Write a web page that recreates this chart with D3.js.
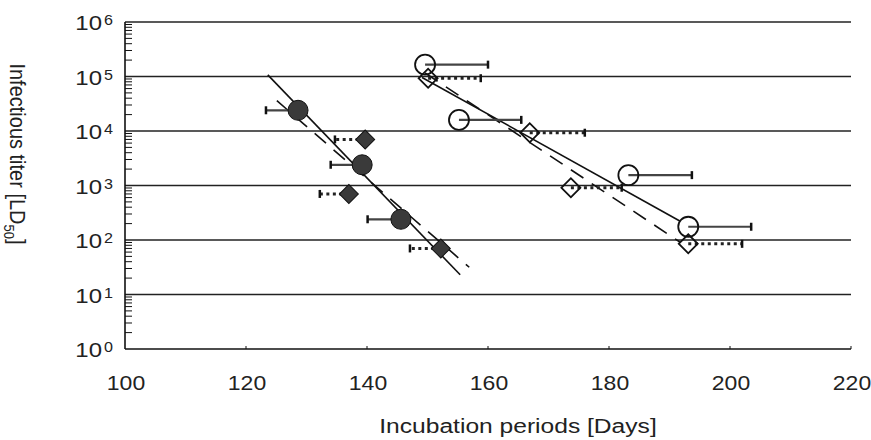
<!DOCTYPE html>
<html><head><meta charset="utf-8">
<script src="https://cdn.jsdelivr.net/npm/d3@7/dist/d3.min.js"></script>
<style>
html,body{margin:0;padding:0;background:#fff;}
svg{display:block;}
text{font-family:"Liberation Sans",Arial,"DejaVu Sans",sans-serif;fill:#222;}
</style></head>
<body>
<svg id="chart" width="871" height="440"></svg>
<script>
// ---- data ----
const xTicks = [100, 120, 140, 160, 180, 200, 220];
const yExponents = [0, 1, 2, 3, 4, 5, 6];

// filled circles (error bar to the left, solid)
const fcDays = [128.6, 139.2, 145.6];
const fcTiter = [24000, 2400, 240];
const fcErrDays = [123.3, 134.0, 140.1];
// filled diamonds (error bar to the left, dotted)
const fdDays = [139.7, 137.0, 152.2];
const fdTiter = [7000, 700, 70];
const fdErrDays = [134.7, 132.2, 147.1];
// open circles (error bar to the right, solid)
const ocDays = [149.6, 155.2, 183.2, 193.1];
const ocTiter = [165000, 16000, 1550, 175];
const ocErrDays = [160.0, 165.5, 193.7, 203.5];
// open diamonds (error bar to the right, dotted)
const odDays = [150.1, 166.9, 173.7, 193.1];
const odTiter = [93000, 9300, 910, 85];
const odErrDays = [158.8, 176.0, 182.1, 202.0];

// regression lines (end points)
const fitFilledSolidDays = [123.6, 155.4];
const fitFilledSolidTiter = [107000, 23];
const fitFilledDashDays = [125.1, 156.9];
const fitFilledDashTiter = [36000, 31.6];
const fitOpenSolidDays = [149.1, 191.7];
const fitOpenSolidTiter = [96000, 223];
const fitOpenDashDays = [149.6, 191.7];
const fitOpenDashTiter = [116000, 92];

// ---- layout ----
const svg = d3.select("#chart");
const x = d3.scaleLinear().domain([100, 220]).range([125, 851]);
const y = d3.scaleLog().domain([1, 1e6]).range([349, 22]);

function sText(parent, px, py, txt, size, anchor, sx) {
  return parent.append("text")
    .attr("transform", `translate(${px},${py}) scale(${sx},1)`)
    .attr("text-anchor", anchor).attr("font-size", size).text(txt);
}

// gridlines at decades
svg.append("g").selectAll("line").data(yExponents.slice(1)).join("line")
  .attr("x1", x(100)).attr("x2", x(220))
  .attr("y1", d => y(Math.pow(10, d))).attr("y2", d => y(Math.pow(10, d)))
  .attr("stroke", "#222").attr("stroke-width", 1.4);

// axes lines
svg.append("line").attr("x1", x(100)).attr("x2", x(100)).attr("y1", y(1e6)).attr("y2", y(1))
  .attr("stroke", "#111").attr("stroke-width", 1.6);
svg.append("line").attr("x1", x(100)).attr("x2", x(220)).attr("y1", y(1)).attr("y2", y(1))
  .attr("stroke", "#111").attr("stroke-width", 1.4);

// minor y ticks
const minor = [];
yExponents.slice(0, -1).forEach(e => { for (let k = 2; k <= 9; k++) minor.push(k * Math.pow(10, e)); });
svg.append("g").selectAll("line").data(minor).join("line")
  .attr("x1", x(100)).attr("x2", x(100) + 7)
  .attr("y1", d => y(d)).attr("y2", d => y(d))
  .attr("stroke", "#111").attr("stroke-width", 1);

// x ticks
svg.append("g").selectAll("line").data(xTicks.slice(1)).join("line")
  .attr("x1", d => x(d)).attr("x2", d => x(d))
  .attr("y1", y(1)).attr("y2", y(1) - 3)
  .attr("stroke", "#111").attr("stroke-width", 1);

// x tick labels
const xl = svg.append("g");
xTicks.forEach(t => sText(xl, x(t) + 1, 390, t, 20, "middle", 1.15));

// y tick labels
const yg = svg.append("g");
yExponents.forEach(e => {
  const yy = y(Math.pow(10, e));
  sText(yg, 102, yy + 8, "10", 20, "end", 1.2);
  sText(yg, 104, yy + 3, e, 14, "start", 1.15);
});

// axis titles
sText(svg, 518, 433, "Incubation periods [Days]", 20, "middle", 1.23);
const yt = svg.append("text").attr("transform", "translate(10,154) scale(1.1,1) rotate(90)")
  .attr("text-anchor", "middle").attr("font-size", 20);
yt.append("tspan").text("Infectious titer [LD");
yt.append("tspan").attr("font-size", 13).attr("dy", 5).text("50");
yt.append("tspan").attr("dy", -5).text("]");

// regression lines
function fitLine(days, titer, dash) {
  svg.append("line")
    .attr("x1", x(days[0])).attr("y1", y(titer[0]))
    .attr("x2", x(days[1])).attr("y2", y(titer[1]))
    .attr("stroke", "#111").attr("stroke-width", 1.6)
    .attr("stroke-dasharray", dash ? "15,10" : null);
}
fitLine(fitFilledSolidDays, fitFilledSolidTiter, false);
fitLine(fitFilledDashDays, fitFilledDashTiter, true);
fitLine(fitOpenSolidDays, fitOpenSolidTiter, false);
fitLine(fitOpenDashDays, fitOpenDashTiter, true);

// error bars
function errBars(days, titer, errDays, dotted) {
  const g = svg.append("g");
  days.forEach((d, i) => {
    const yy = y(titer[i]);
    g.append("line").attr("x1", x(d)).attr("x2", x(errDays[i]))
      .attr("y1", yy).attr("y2", yy)
      .attr("stroke", dotted ? "#222" : "#444")
      .attr("stroke-width", dotted ? 3 : 2.2)
      .attr("stroke-dasharray", dotted ? "3,3.5" : null);
    g.append("line").attr("x1", x(errDays[i])).attr("x2", x(errDays[i]))
      .attr("y1", yy - 4).attr("y2", yy + 4)
      .attr("stroke", "#111").attr("stroke-width", 2.5);
  });
}
errBars(fcDays, fcTiter, fcErrDays, false);
errBars(fdDays, fdTiter, fdErrDays, true);
errBars(ocDays, ocTiter, ocErrDays, false);
errBars(odDays, odTiter, odErrDays, true);

// markers
const circ = d3.symbol().type(d3.symbolCircle).size(Math.PI * 100);
const diam = d3.symbol().type(d3.symbolSquare).size(180);
function markers(days, titer, type, filled) {
  svg.append("g").selectAll("path").data(days).join("path")
    .attr("d", type === "circle" ? circ : diam)
    .attr("transform", (d, i) => `translate(${x(d)},${y(titer[i])})` + (type === "diamond" ? " rotate(45)" : ""))
    .attr("fill", filled ? "#3a3a3a" : "none")
    .attr("stroke", "#111").attr("stroke-width", filled ? 1 : 1.8);
}
markers(fcDays, fcTiter, "circle", true);
markers(fdDays, fdTiter, "diamond", true);
markers(ocDays, ocTiter, "circle", false);
markers(odDays, odTiter, "diamond", false);
</script>
</body></html>
